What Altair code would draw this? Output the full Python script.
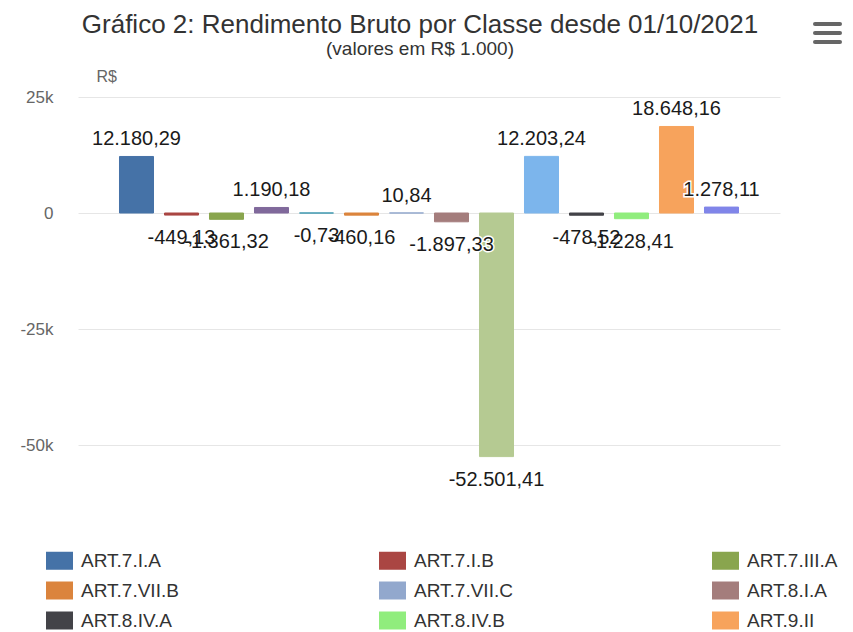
import altair as alt
import pandas as pd

series = ["ART.7.I.A", "ART.7.I.B", "ART.7.III.A", "ART.7.IV.A", "ART.7.V.B",
          "ART.7.VII.B", "ART.7.VII.C", "ART.8.I.A", "ART.8.II.A", "ART.8.III",
          "ART.8.IV.A", "ART.8.IV.B", "ART.9.II", "ART.9.III"]
values = [12180.29, -449.13, -1361.32, 1190.18, -0.73,
          -460.16, 10.84, -1897.33, -52501.41, 12203.24,
          -478.52, -1228.41, 18648.16, 1278.11]
colors = ["#4572A7", "#AA4643", "#89A54E", "#80699B", "#3D96AE",
          "#DB843D", "#92A8CD", "#A47D7C", "#B5CA92", "#7CB5EC",
          "#434348", "#90ED7D", "#F7A35C", "#8085E9"]
legend_names = ["ART.7.I.A", "ART.7.I.B", "ART.7.III.A",
                "ART.7.VII.B", "ART.7.VII.C", "ART.8.I.A",
                "ART.8.IV.A", "ART.8.IV.B", "ART.9.II"]
y_ticks = [-50000, -25000, 0, 25000]


def br(v):
    s = f"{v:,.2f}"
    return s.replace(",", "X").replace(".", ",").replace("X", ".")


df = pd.DataFrame({"serie": series, "valor": values,
                   "rotulo": [br(v) for v in values]})

FONT = "Liberation Sans"

x_enc = alt.X("serie:N", sort=series, axis=None,
              scale=alt.Scale(paddingInner=0.244, paddingOuter=0.922))
y_scale = alt.Scale(domain=[-62500, 25000], nice=False, zero=False)

bars = alt.Chart(df).mark_bar(strokeWidth=1).encode(
    x=x_enc,
    y=alt.Y("valor:Q", scale=y_scale,
            axis=alt.Axis(values=y_ticks, title="R$", titleAngle=0,
                          titleX=18, titleY=-21, titleAlign="left",
                          titleBaseline="middle", titleColor="#666",
                          titleFontSize=16, titleFontWeight="normal",
                          titleFont=FONT,
                          labelExpr="datum.value == 0 ? '0' : (datum.value / 1000) + 'k'",
                          labelFontSize=17, labelColor="#666", labelFont=FONT,
                          labelPadding=25, ticks=False, domain=False,
                          grid=True, gridColor="#e6e6e6", gridWidth=1)),
    color=alt.Color("serie:N", sort=series,
                    scale=alt.Scale(domain=series, range=colors),
                    legend=alt.Legend(orient="none", legendX=-28, legendY=454,
                                      direction="horizontal",
                                      columns=3, values=legend_names, title=None,
                                      symbolType="M-1.5,-1H1.5V1H-1.5Z",
                                      symbolSize=324, symbolStrokeWidth=0,
                                      labelFontSize=19, labelColor="#333",
                                      labelFont=FONT, labelOffset=12,
                                      columnPadding=199, rowPadding=10,
                                      gridAlign="all")),
    stroke=alt.Color("serie:N", sort=series,
                     scale=alt.Scale(domain=series, range=colors), legend=None),
)

pos = df[df["valor"] >= 0]
neg = df[df["valor"] < 0]

def labels(data, dy):
    halo = alt.Chart(data).mark_text(dy=dy, baseline="middle", fontSize=20,
                                     font=FONT, stroke="white", strokeWidth=3,
                                     fill="white").encode(
        x=x_enc, y=alt.Y("valor:Q", scale=y_scale), text="rotulo:N")
    txt = alt.Chart(data).mark_text(dy=dy, baseline="middle", fontSize=20,
                                    font=FONT, color="#1a1a1a").encode(
        x=x_enc, y=alt.Y("valor:Q", scale=y_scale), text="rotulo:N")
    return halo + txt

one = alt.Data(values=[{}])
menu = [alt.Chart(one).mark_rule(color="#666", strokeWidth=4, strokeCap="round").encode(
    x=alt.value(737), x2=alt.value(762), y=alt.value(yy)) for yy in (-73, -64, -55)]

chart = alt.layer(bars, labels(pos, -17), labels(neg, 23), *menu).properties(
    width=702, height=406,
    padding={"left": 70, "top": 89, "right": 62, "bottom": 128},
    autosize=alt.AutoSizeParams(type="none"),
    title=alt.TitleParams(text="Gráfico 2: Rendimento Bruto por Classe desde 01/10/2021",
                          subtitle="(valores em R$ 1.000)", anchor="middle",
                          frame="group", font=FONT, subtitleFont=FONT,
                          fontSize=26, subtitleFontSize=19, fontWeight="normal",
                          color="#333", subtitleColor="#333", offset=-37,
                          subtitlePadding=2, dx=-9),
).configure_view(stroke=None)

chart.save("out.html", embed_options={"renderer": "svg", "actions": False})
